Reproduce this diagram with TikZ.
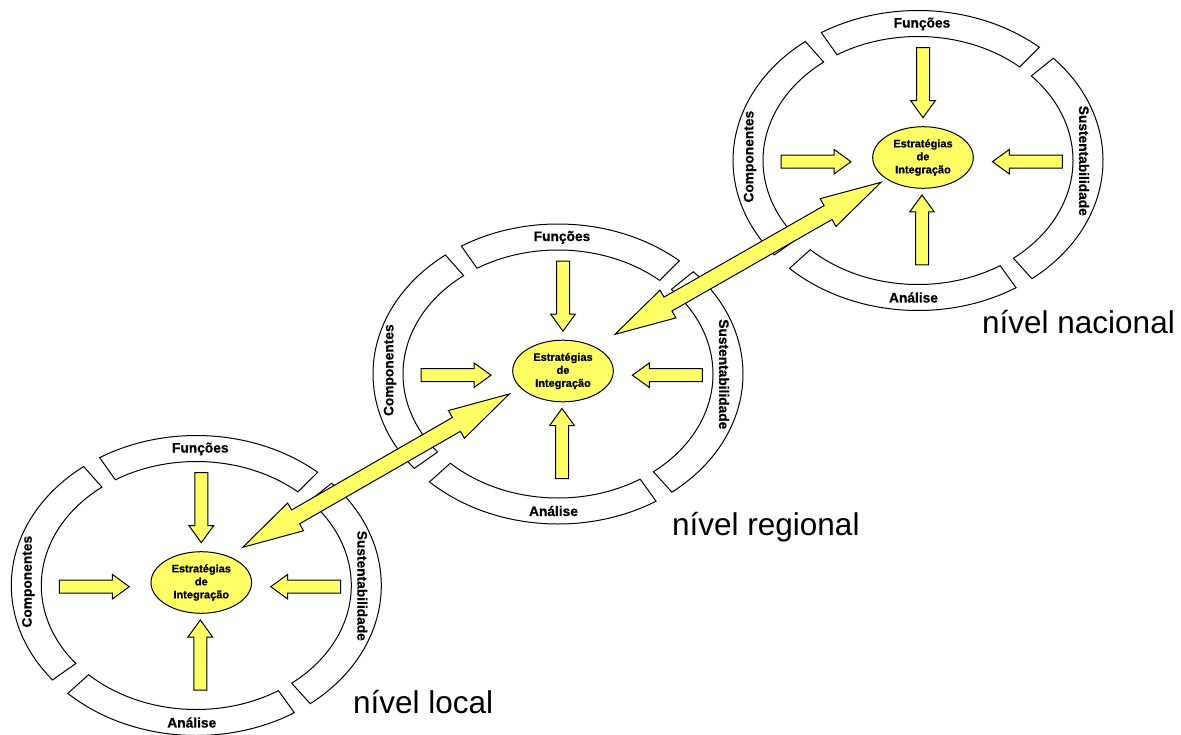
\documentclass[tikz,border=0pt]{standalone}
\usepackage{fontspec}
\setmainfont{Liberation Sans}
\newfontfamily\heavyfont[FakeBold=0.7]{Liberation Sans}
\usetikzlibrary{calc,shapes.geometric}
\definecolor{hubyellow}{HTML}{FFFF66}
\tikzset{
  seg/.style={draw=black, fill=white, line width=1pt, line join=miter},
  seglabel/.style={font=\heavyfont\fontsize{13.75}{15}\selectfont\bfseries, inner sep=0pt},
  hub/.style={ellipse, draw=black, fill=hubyellow, line width=1pt,
    minimum width=100.6pt, minimum height=61.6pt, inner sep=0pt, align=center,
    font=\heavyfont\fontsize{11}{13}\selectfont\bfseries},
  arrowfill/.style={draw=black, fill=hubyellow, line width=1pt, line join=miter},
  levellabel/.style={font=\fontsize{31.5}{36}\selectfont, anchor=base west, inner sep=0pt},
  inarrow/.pic={\path[arrowfill] (0,-6.5) -- (53,-6.5) -- (53,-12.3) -- (70,0)
      -- (53,12.3) -- (53,6.5) -- (0,6.5) -- cycle;}
}
% one block of the ring: centre, start angle, end angle
\newcommand{\ringseg}[3]{%
  \path[seg] ($(#1)+(#2:185pt and 150pt)$)
    arc[start angle=#2, end angle=#3, x radius=185pt, y radius=150pt]
    -- ($(#1)+(#3:155pt and 124pt)$)
    arc[start angle=#3, end angle=#2, x radius=155pt, y radius=124pt] -- cycle;}
% wide double-headed arrow between two tips
\newcommand{\dblarrow}[2]{%
  \coordinate (ha) at ($(#1)!61pt!(#2)$);
  \coordinate (hb) at ($(#2)!61pt!(#1)$);
  \path[arrowfill] (#1) -- ($(ha)!16pt!90:(#2)$) -- ($(ha)!8pt!90:(#2)$)
    -- ($(hb)!8pt!-90:(#1)$) -- ($(hb)!16pt!-90:(#1)$) -- (#2)
    -- ($(hb)!16pt!90:(#1)$) -- ($(hb)!8pt!90:(#1)$)
    -- ($(ha)!8pt!-90:(#2)$) -- ($(ha)!16pt!-90:(#2)$) -- cycle;}
\begin{document}
\begin{tikzpicture}[x=1pt,y=1pt]
\useasboundingbox (0,0) rectangle (1181,-735);
\foreach \n/\hx/\hy in {L/201.3/-582.5, R/563/-371, N/923/-157.5}{
  \coordinate (c\n) at (\hx,\hy);
  \coordinate (ring\n) at (\hx-5,\hy-3);
  % ring blocks
  \ringseg{ring\n}{49}{121.5}
  \ringseg{ring\n}{127.5}{219}
  \ringseg{ring\n}{226}{302}
  \ringseg{ring\n}{308}{403}
  \node[seglabel] (fun\n) at ($(ring\n)+(4,136.5)$) {Funções};
  \node[seglabel] (ana\n) at ($(ring\n)+(-4.5,-137)$) {Análise};
  \node[seglabel, rotate=90] (com\n) at ($(ring\n)+(-168,3.8)$) {Componentes};
  \node[seglabel, rotate=-90] (sus\n) at ($(ring\n)+(166,-0.3)$) {Sustentabilidade};
  % inward arrows
  \pic[rotate=-90] at ($(c\n)+(0,109.8)$) {inarrow};
  \pic[rotate=90] at ($(c\n)+(-1,-107.5)$) {inarrow};
  \pic at ($(c\n)+(-142,-4.2)$) {inarrow};
  \pic[rotate=180] at ($(c\n)+(139.4,-4.2)$) {inarrow};
  % centre
  \node[hub] (hub\n) at (c\n) {Estratégias\\de\\Integração};
}
% links between levels
\coordinate (tL) at ($(hubL.center)+(41.4,35.2)$);
\coordinate (tRa) at ($(hubR.center)+(-53.7,-23)$);
\coordinate (tRb) at ($(hubR.center)+(52,36.7)$);
\coordinate (tN) at ($(hubN.center)+(-42,-24.8)$);
\dblarrow{tL}{tRa}
\dblarrow{tRb}{tN}
% level names
\node[levellabel] (lvL) at (353,-713.3) {nível local};
\node[levellabel] (lvR) at (672,-535) {nível regional};
\node[levellabel] (lvN) at (982,-333.3) {nível nacional};
\end{tikzpicture}
\end{document}
